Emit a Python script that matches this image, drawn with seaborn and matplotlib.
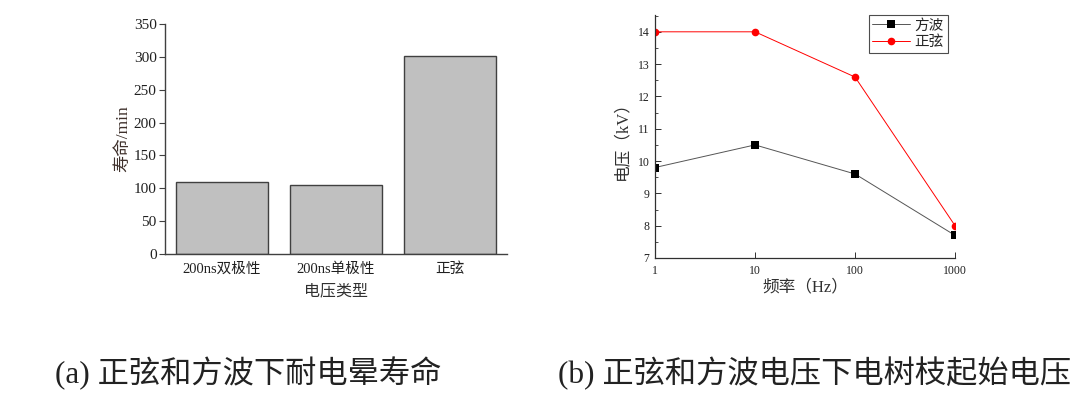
import matplotlib
matplotlib.use("Agg")
import matplotlib.pyplot as plt
import seaborn as sns
import pandas as pd
import numpy as np
from matplotlib.ticker import FixedLocator, NullLocator, MultipleLocator, FixedFormatter

# ---- data ----
voltage_types = ["200ns双极性", "200ns单极性", "正弦"]
lifetime_min = [110, 105, 301]

freq_hz = [1, 10, 100, 1000]
square_kv = [9.8, 10.5, 9.6, 7.7]
sine_kv = [14.0, 14.0, 12.6, 8.0]
series_names = ["方波", "正弦"]

sns.set_theme(style="white")
FAM = ["Liberation Serif", "Noto Sans CJK SC", "DejaVu Sans"]
plt.rcParams["font.family"] = FAM
plt.rcParams["axes.unicode_minus"] = False

fig = plt.figure(figsize=(10.8, 3.99), dpi=100)

# ---- left: bar chart ----
ax1 = fig.add_axes([0.1528, 0.3634, 0.3167, 0.5764])
df1 = pd.DataFrame({"type": voltage_types, "life": lifetime_min})
sns.barplot(data=df1, x="type", y="life", color="#c0c0c0", saturation=1,
            edgecolor="#404040", linewidth=1.0, width=0.8, ax=ax1)
ax1.set_xlim(-0.5, 2.5)
ax1.set_ylim(0, 350)
ax1.yaxis.set_major_locator(MultipleLocator(50))
for s in ["top", "right"]:
    ax1.spines[s].set_visible(False)
for s in ["left", "bottom"]:
    ax1.spines[s].set_color("#404040")
    ax1.spines[s].set_linewidth(1.0)
ax1.tick_params(axis="y", direction="out", length=4, width=0.8, color="#404040",
                labelsize=11, pad=2, left=True, labelcolor="#202020")
ax1.tick_params(axis="x", length=0, labelsize=10.5, pad=6, labelcolor="#202020")
ax1.set_xlabel("电压类型", fontsize=11.5, labelpad=5, color="#303030")
ax1.set_ylabel("寿命/min", fontsize=12.5, labelpad=1.5, color="#3e302b")

# ---- right: line chart ----
ax2 = fig.add_axes([0.6065, 0.3534, 0.2778, 0.609])
df2 = pd.DataFrame({
    "freq": freq_hz * 2,
    "kv": square_kv + sine_kv,
    "series": [series_names[0]] * len(freq_hz) + [series_names[1]] * len(freq_hz),
})
sns.lineplot(data=df2, x="freq", y="kv", hue="series", style="series",
             palette={"方波": "#000000", "正弦": "#ff0000"},
             markers={"方波": "s", "正弦": "o"}, dashes=False,
             markersize=5.5, linewidth=0.7, markeredgewidth=0, ax=ax2)
ax2.set_xscale("log")
ax2.set_xlim(1, 1000)
ax2.set_ylim(7, 14.52)
ax2.xaxis.set_major_locator(FixedLocator(freq_hz))
ax2.xaxis.set_major_formatter(FixedFormatter([str(f) for f in freq_hz]))
ax2.xaxis.set_minor_locator(NullLocator())
ax2.yaxis.set_major_locator(MultipleLocator(1))
ax2.yaxis.set_minor_locator(MultipleLocator(0.5))
for s in ["top", "right"]:
    ax2.spines[s].set_visible(False)
for s in ["left", "bottom"]:
    ax2.spines[s].set_color("#303030")
    ax2.spines[s].set_linewidth(0.9)
ax2.tick_params(axis="both", which="major", direction="in", length=4, width=0.7,
                color="#303030", labelsize=8.5, left=True, bottom=True,
                labelcolor="#202020")
ax2.tick_params(axis="y", which="minor", direction="in", length=2.5, width=0.6,
                color="#303030", left=True)
ax2.tick_params(axis="x", pad=5)
ax2.tick_params(axis="y", pad=4)
ax2.set_xlabel("频率（Hz）", fontsize=12, labelpad=2, color="#303030")
ax2.set_ylabel("电压（kV）", fontsize=12, labelpad=5, color="#303030")
leg = ax2.legend(loc="upper right", bbox_to_anchor=(0.975, 1.0), frameon=True,
                 fancybox=False, edgecolor="#202020", fontsize=10.5,
                 handlelength=2.6, borderpad=0.25, labelspacing=0.2,
                 handletextpad=0.3, borderaxespad=0.0)
leg.get_frame().set_linewidth(0.8)
# grey connecting line for the square-wave series, black markers
for ln in [ax2.lines[0]] + [leg.get_lines()[0]]:
    ln.set_color("#555555")
    ln.set_markerfacecolor("#000000")
    ln.set_markeredgecolor("#000000")

# ---- captions ----
fig.text(0.051, 0.063, "(a) 正弦和方波下耐电晕寿命", fontsize=22.5, va="center",
         ha="left", color="#222222", family=FAM)
fig.text(0.517, 0.063, "(b) 正弦和方波电压下电树枝起始电压", fontsize=22.5, va="center",
         ha="left", color="#222222", family=FAM)

fig.savefig("out.png", dpi=100)
